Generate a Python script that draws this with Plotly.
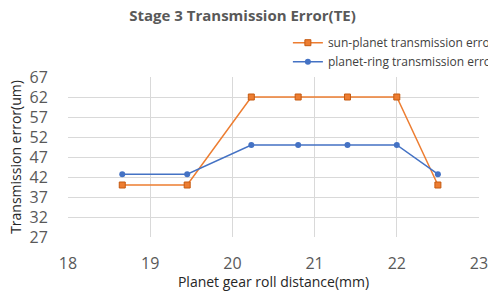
import plotly.graph_objects as go

x_vals = [18.66, 19.45, 20.23, 20.8, 21.4, 22.0, 22.5]
sun_planet = [40, 40, 62, 62, 62, 62, 40]
planet_ring = [42.7, 42.7, 50, 50, 50, 50, 42.7]
y_ticks = [27, 32, 37, 42, 47, 52, 57, 62, 67]
x_ticks = [18, 19, 20, 21, 22, 23]

FONT = "Open Sans"
fig = go.Figure()
fig.add_trace(go.Scatter(
    x=x_vals, y=sun_planet, mode="lines+markers",
    name="sun-planet transmission error",
    line=dict(color="#ED7D31", width=1.5),
    marker=dict(symbol="square", size=6, color="#ED7D31", line=dict(color="#C55A11", width=1)),
))
fig.add_trace(go.Scatter(
    x=x_vals, y=planet_ring, mode="lines+markers",
    name="planet-ring transmission error",
    line=dict(color="#4472C4", width=1.5),
    marker=dict(symbol="circle", size=6, color="#4472C4"),
))
fig.update_layout(
    width=488, height=291,
    margin=dict(l=68, r=9, t=77, b=54, autoexpand=False),
    paper_bgcolor="white", plot_bgcolor="white",
    font=dict(family=FONT, color="#595959"),
    title=dict(text="<b>Stage 3 Transmission Error(TE)</b>", x=0.497, xanchor="center",
               y=0.945, yanchor="middle", font=dict(size=15, color="#595959", family=FONT)),
    legend=dict(x=0.535, xanchor="left", y=1.305, yanchor="top",
                font=dict(size=12, color="#404040", family=FONT),
                bgcolor="rgba(0,0,0,0)", tracegroupgap=0),
    showlegend=True,
)
fig.update_xaxes(
    range=[18, 23], tickvals=x_ticks, showgrid=True, gridcolor="#D9D9D9", gridwidth=1,
    zeroline=False, showline=False, tickfont=dict(size=16, color="#595959"),
    ticks="outside", ticklen=12, tickcolor="rgba(0,0,0,0)", ticklabeloverflow="allow",
    title=dict(text="Planet gear roll distance(mm)", font=dict(size=14, color="#262626"), standoff=3),
)
fig.update_yaxes(
    range=[27, 67], tickvals=y_ticks, showgrid=True, gridcolor="#D9D9D9", gridwidth=1,
    zeroline=False, showline=False, tickfont=dict(size=16, color="#595959"),
    ticks="outside", ticklen=16, tickcolor="rgba(0,0,0,0)",
    title=dict(text="Transmission error(um)", font=dict(size=14, color="#262626"), standoff=4),
)
fig.write_html(
    "out.html",
    config={"displayModeBar": False},
    post_script="document.body.style.margin='0';document.body.style.overflow='hidden';",
)
